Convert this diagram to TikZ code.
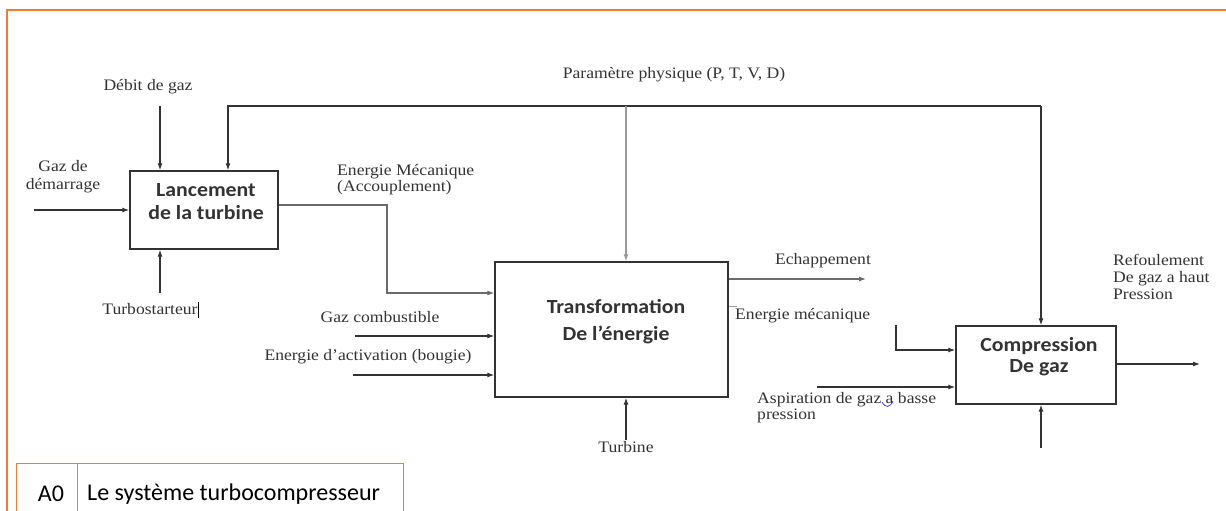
\documentclass[tikz,border=0pt]{standalone}
\usepackage{fontspec}
\setmainfont[FakeStretch=1.1]{Liberation Serif}
\newfontfamily\boxfont[FakeStretch=1.09]{Carlito}
\newfontfamily\tagfont{Carlito}
\usetikzlibrary{arrows.meta}
\definecolor{frameorange}{HTML}{ED7D31}
\definecolor{lightline}{HTML}{9A9A9A}
\definecolor{midline}{HTML}{6A6A6A}
\definecolor{darkline}{HTML}{333333}
\begin{document}
\begin{tikzpicture}[x=1pt,y=-1pt,
  box/.style={draw=darkline, line width=1.4pt, inner sep=0pt, fill=white},
  boxtext/.style={font=\boxfont\bfseries\fontsize{20}{23}\selectfont, align=center, inner sep=0pt, text=darkline},
  lbl/.style={font=\fontsize{16}{17}\selectfont, inner sep=0pt, text=darkline},
  lbll/.style={lbl, align=left, anchor=west},
  lblc/.style={lbl, align=center},
  flow/.style={draw=darkline, line width=1.1pt},
  arr/.style={flow, -{Latex[length=7pt,width=5pt]}},
  garr/.style={arr, draw=lightline},
  marr/.style={arr, draw=midline},
  frame/.style={draw=frameorange, line width=2pt},
  tagbox/.style={draw=frameorange, line width=1pt},
  tagtext/.style={font=\tagfont\fontsize{24}{28}\selectfont, inner sep=0pt}]
\useasboundingbox (0,0) rectangle (1226,511);
\clip (0,0) rectangle (1226,511);
\fill[white] (0,0) rectangle (1226,511);

% outer frame
\draw[frame] (7,530) -- (7,10) -- (1240,10);

% tag box
\draw[tagbox] (16,530) -- (16,463) -- (403,463) -- (403,530);
\draw[tagbox] (77,463) -- (77,530);
\node[tagtext] (a0) at (51,494) {A0};
\node[tagtext, anchor=west] (title) at (87,494) {Le système turbocompresseur};

% boxes
\node[box, minimum width=148, minimum height=78] (b1) at (204,210) {};
\node[box, minimum width=233, minimum height=135] (b2) at (611.5,329.5) {};
\node[box, minimum width=160, minimum height=78] (b3) at (1036,365) {};
\node[boxtext] (t1) at (206,202) {Lancement\\de la turbine};
\node[boxtext, font=\boxfont\bfseries\fontsize{20}{27}\selectfont] (t2) at (616,322) {Transformation\\De l’énergie};
\node[boxtext, font=\boxfont\bfseries\fontsize{20}{21}\selectfont] (t3) at (1039,357) {Compression\\De gaz};

% free ends
\coordinate (debit) at (160,106);
\coordinate (fbL) at (228,106);
\coordinate (fbM) at (626,106);
\coordinate (fbR) at (1041,106);
\coordinate (demar) at (34,210);
\coordinate (turbost) at (160,293);
\coordinate (emA) at (387,205);
\coordinate (emB) at (387,293);
\coordinate (gazc) at (355,336);
\coordinate (enact) at (353,375);
\coordinate (turb) at (626,440);
\coordinate (echap) at (866,279);
\coordinate (emC) at (896,325);
\coordinate (emD) at (896,350);
\coordinate (aspi) at (817,387);
\coordinate (refoul) at (1200,364);
\coordinate (bot3) at (1041,448);

% connectors
\draw[arr] (debit) -- (debit |- b1.north);
\draw[arr] (fbR) -- (fbL) -- (fbL |- b1.north);
\draw[arr] (fbR) -- (fbR |- b3.north);
\draw[garr] (fbM) -- (fbM |- b2.north);
\draw[arr] (demar) -- (demar -| b1.west);
\draw[arr] (turbost) -- (turbost |- b1.south);
\draw[marr] (emA -| b1.east) -- (emA) -- (emB) -- (emB -| b2.west);
\draw[arr] (gazc) -- (gazc -| b2.west);
\draw[arr] (enact) -- (enact -| b2.west);
\draw[arr] (turb) -- (turb |- b2.south);
\draw[marr] (echap -| b2.east) -- (echap);
\draw[draw=lightline, line width=1pt] (b2.east |- 0,306) -- ++(8,0);
\draw[arr] (emC) -- (emD) -- (emD -| b3.west);
\draw[arr] (aspi) -- (aspi -| b3.west);
\draw[arr] (refoul -| b3.east) -- (refoul);
\draw[arr] (bot3) -- (bot3 |- b3.south);

% labels
\node[lblc] (l1) at (148,87) {Débit de gaz};
\node[lblc] (l2) at (674,75) {Paramètre physique (P, T, V, D)};
\node[lblc, font=\fontsize{16}{18}\selectfont] (l3) at (63,177) {Gaz de\\démarrage};
\node[lblc] (l4) at (150,309) {Turbostarteur};
\draw[draw=black, line width=1pt] (198,302) -- (198,318);
\node[lbll, font=\fontsize{16}{16}\selectfont] (l5) at (337,180) {Energie Mécanique\\(Accouplement)};
\node[lblc] (l6) at (380,317) {Gaz combustible};
\node[lblc] (l7) at (368,357) {Energie d’activation (bougie)};
\node[lblc] (l8) at (626,447) {Turbine};
\node[lblc] (l9) at (823,261) {Echappement};
\node[lbll] (l10) at (735,316) {Energie mécanique};
\node[lbll, font=\fontsize{16}{16}\selectfont] (l11) at (757,408) {Aspiration de gaz a basse\\pression};
\draw[draw=blue!75, line width=0.8pt] (882,402) .. controls (885,408) and (890,408) .. (893,401);
\node[lbll] (l12) at (1113,277) {Refoulement\\De gaz a haut\\Pression};
\end{tikzpicture}
\end{document}
